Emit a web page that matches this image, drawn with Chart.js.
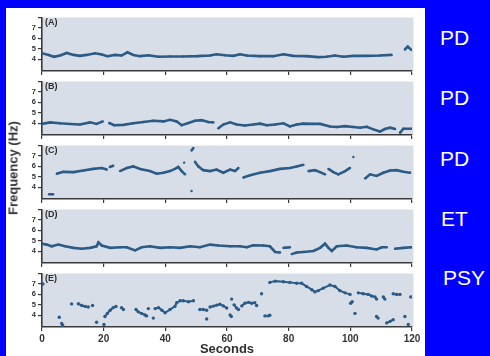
<!DOCTYPE html>
<html>
<head>
<meta charset="utf-8">
<script src="https://cdn.jsdelivr.net/npm/chart.js@4"></script>
<style>
  body { margin: 0; width: 490px; height: 356px; background: #0000ff; overflow: hidden; position: relative; font-family: "Liberation Sans", Arial, sans-serif; }
  #sheet { position: absolute; left: 6px; top: 8px; width: 419px; height: 348px; background: #ffffff; }
  .panel { position: absolute; left: 0; }
  #ylabel { position: absolute; left: 13px; top: 168px; transform: translate(-50%, -50%) rotate(-90deg); font-weight: bold; font-size: 13px; color: #333; white-space: nowrap; }
  .group { position: absolute; color: #ffffff; font-size: 21px; line-height: 21px; }
</style>
</head>
<body>
<div id="sheet"></div>
<canvas class="panel" id="panelA" width="425" height="68" style="top:11px"></canvas>
<canvas class="panel" id="panelB" width="425" height="68" style="top:75px"></canvas>
<canvas class="panel" id="panelC" width="425" height="68" style="top:139px"></canvas>
<canvas class="panel" id="panelD" width="425" height="68" style="top:203px"></canvas>
<canvas class="panel" id="panelE" width="425" height="89" style="top:267px"></canvas>
<div id="ylabel">Frequency (Hz)</div>
<div class="group" style="left:440px; top:27px">PD</div>
<div class="group" style="left:440px; top:87px">PD</div>
<div class="group" style="left:440px; top:148px">PD</div>
<div class="group" style="left:441px; top:208px">ET</div>
<div class="group" style="left:443px; top:267px">PSY</div>

<script>
document.addEventListener('DOMContentLoaded', function() {
    // tick labels
    const secondTicks = [0, 20, 40, 60, 80, 100, 120];
    const freqTicks = [4, 5, 6, 7];
    const panelNames = ['(A)', '(B)', '(C)', '(D)', '(E)'];

    // (A) PD - time in seconds, tremor frequency in Hz (null = gap)
    const timesA = [0, 2.1, 3.9, 6.1, 8, 10.2, 12.3, 14.5, 17.2, 19.4, 21.2, 23.7, 25.8, 27.7, 29.6, 31.8, 34.5, 37.7, 41.5, 45.8,
        50.2, 54.5, 56.6, 59.4, 62.1, 64.2, 66.4, 70.7, 75, 78.3, 81.5, 85.8, 89.6, 92.3, 95, 97.7, 101, 105.3, 109.6, 113.4,
        115.5, 117.7, 118.6, 119.9];
    const freqA = [4.58, 4.42, 4.24, 4.39, 4.61, 4.42, 4.33, 4.42, 4.58, 4.45, 4.3, 4.42, 4.36, 4.67, 4.42, 4.3, 4.39, 4.24, 4.27, 4.27,
        4.3, 4.36, 4.48, 4.39, 4.33, 4.48, 4.36, 4.3, 4.3, 4.48, 4.33, 4.3, 4.21, 4.24, 4.36, 4.24, 4.33, 4.33, 4.36, 4.42,
        null, 4.94, 5.21, 4.88];

    // (B) PD
    const timesB = [0, 2.6, 5.8, 9.1, 12.3, 15.6, 17.7, 19.7, 20.8, 21.8, 23.4, 26.4, 29.6, 32.9, 36.1, 39.4, 41.5, 43.7, 45.3, 47.5,
        49.6, 51.8, 53.9, 55.6, 56.4, 57.2, 58.8, 61, 63.1, 65.8, 68.5, 70.7, 72.9, 75.6, 78.3, 80.4, 82.6, 84.8, 88, 90.2,
        93.4, 95.6, 98.3, 101, 103.1, 105.3, 107.5, 109.6, 111.2, 112.9, 114.5, 115.3, 116.1, 117.2, 119.9];
    const freqB = [3.94, 4.09, 4.0, 3.94, 3.88, 4.09, 3.94, 4.18, null, 4.03, 3.82, 3.85, 4.0, 4.12, 4.24, 4.18, 4.33, 4.18, 3.82, 4.03,
        4.24, 4.3, 4.12, 4.09, null, 3.52, 3.88, 4.09, 3.88, 3.79, 3.88, 3.97, 3.82, 3.88, 4.0, 3.7, 3.88, 3.97, 3.94, 3.94,
        3.7, 3.64, 3.73, 3.64, 3.58, 3.67, 3.42, 3.21, 3.45, 3.58, 3.45, null, 3.09, 3.48, 3.48];

    // (C) PD
    const timesC = [2.3, 3.6, 4.2, 4.8, 6.9, 10.2, 13.4, 16.6, 19.4, 21, 21.5, 22, 23.1, 24.2, 25.3, 27.5, 29.6, 31.8, 35, 37.2,
        39.4, 41.5, 43.1, 44.2, 45.3, 46.4, 46.6, 46.1, 46.7, 48.5, 48.6, 48.5, 49.1, 49.3, 49.6, 50.7, 52.3, 54.5, 56.6, 58.8,
        61, 62.6, 63.7, 64.5, 65.3, 67.5, 70.7, 73.9, 77.2, 80.4, 82.6, 84.8, 85.5, 86.4, 88.5, 90.2, 91.8, 92.3, 92.9, 94.5,
        96.1, 98.3, 99.9, 100.5, 101, 102, 104.8, 106.4, 108.5, 110.7, 112.9, 115, 117.2, 119.4];
    const freqC = [3.33, 3.33, null, 5.3, 5.48, 5.45, 5.6, 5.76, 5.85, 5.7, null, 5.94, 6.06, null, 5.55, 5.85, 6.0, 5.76, 5.55, 5.3,
        5.39, 5.55, 5.76, 5.94, 5.55, 5.24, null, 6.36, null, 3.64, null, 7.52, 7.76, null, 6.45, 6.0, 5.64, 5.55, 5.7, 5.39,
        5.7, 5.55, 5.85, null, 4.94, 5.15, 5.39, 5.55, 5.76, 5.85, 6.0, 6.15, null, 5.55, 5.64, 5.45, 5.24, null, 5.76, 5.45,
        5.24, 5.55, 5.85, null, 6.9, null, 4.85, 5.24, 5.09, 5.39, 5.61, 5.64, 5.48, 5.39];

    // (D) ET
    const timesD = [0, 1.5, 3.1, 5.3, 7.5, 10.2, 12.9, 15.6, 17.7, 18.3, 19.4, 22.1, 25.3, 27.5, 30.2, 32.3, 35, 38.3, 41.5, 44.8,
        48, 51.2, 54.5, 57.2, 61, 64.2, 66.4, 68.5, 71.8, 73.9, 75.6, 77.2, 77.7, 78.3, 80.4, 80.7, 81, 82.6, 84.8, 88,
        90.2, 91.8, 92.9, 94, 95.6, 98.8, 102, 105.3, 108.5, 110.2, 111.8, 113, 114.5, 117.2, 119.9];
    const freqD = [4.73, 4.64, 4.48, 4.64, 4.48, 4.33, 4.24, 4.33, 4.48, 4.85, 4.55, 4.33, 4.39, 4.39, 4.09, 4.39, 4.48, 4.33, 4.39, 4.33,
        4.48, 4.39, 4.64, 4.55, 4.48, 4.48, 4.39, 4.58, 4.55, 4.48, 3.94, 3.88, null, 4.33, 4.39, null, 3.73, 3.88, 3.94, 4.03,
        4.33, 4.73, 4.33, 4.03, 4.48, 4.55, 4.39, 4.33, 4.18, 4.39, 4.39, null, 4.24, 4.33, 4.39];

    // (E) PSY - scattered estimates
    const timesE = [0.3, 1, 5.6, 6, 6.4, 6.7, 7, 9.6, 10, 11.8, 12.9, 14, 15, 15.5, 16.4, 17, 17.7, 18, 20.1, 20.2,
        20.4, 21.2, 22.1, 23.1, 24, 25, 25.8, 26.4, 27, 30.5, 31.2, 32.3, 33.4, 33.9, 34.2, 34.5, 35, 36.1, 36.4, 36.7,
        37.8, 38.9, 39.9, 41.5, 43.1, 43.7, 44.8, 45.8, 47.5, 49.1, 50, 51.2, 52.3, 53.4, 53.4, 53.4, 54, 54.5, 55.6, 56.6,
        57.7, 58.8, 59.9, 60.5, 61, 61.4, 61.4, 61.5, 61.9, 62.3, 63.1, 63.7, 64.2, 64.8, 65.8, 67, 68, 69, 69.3, 69.6,
        70, 71.2, 71.8, 72.3, 73.4, 73.9, 73.9, 73.9, 75.6, 78.3, 80.4, 82.6, 84.2, 85.8, 87.5, 88.5, 89.6, 91.2, 93.4, 95,
        96.6, 98.3, 99.9, 100, 100.1, 100.6, 101, 101.5, 102, 102.6, 104.2, 105.8, 106.9, 108, 108.5, 108.5, 108.5, 109, 109.5, 110.7,
        111.2, 111.5, 111.8, 112.9, 113.9, 113.9, 113.9, 115, 116.1, 117, 117.7, 118, 118.8, 119, 119.6];
    const freqE = [7.0, null, 3.82, null, 3.21, 3.03, null, 5.09, null, 5.1, 4.94, 4.85, 4.79, null, 4.94, null, 3.33, null, 3.12, null,
        3.88, 4.18, 4.48, 4.73, 4.85, null, 4.73, 4.55, null, 4.55, 4.33, 4.18, 4.03, 3.94, null, 4.64, null, 3.73, null, 4.64,
        4.73, 4.48, 4.24, 4.55, 4.85, 5.2, 5.39, 5.39, 5.3, 5.39, null, 4.55, 4.55, 4.48, null, 3.64, null, 4.79, 4.88, 4.97,
        5.06, 4.9, 4.7, null, 4.03, 3.88, null, 5.55, null, 5.0, 4.7, 4.55, null, 4.9, 5.15, 5.24, 5.15, 5.2, null, 4.94,
        null, 6.06, null, 3.94, 3.94, 4.0, null, 7.15, 7.27, 7.21, 7.15, 7.06, 7.06, 6.76, 6.45, 6.24, 6.36, 6.6, 6.9, 6.76,
        6.36, 6.15, 6.0, null, 5.15, 5.3, null, 4.18, null, 6.15, 6.06, 6.0, 5.85, 5.76, 5.55, null, 3.88, 3.73, null, 5.76,
        5.55, null, 3.27, 3.42, 3.58, null, 6.06, 6.0, 6.0, null, 3.88, null, 3.12, null, 5.76];

    const lineColor = '#2b5b86';
    const axisColor = '#3a3a3a';
    const shadeColor = '#d7dee7';

    // fills the plot area and writes the (A)..(E) tag
    const panelPlugin = {
        id: 'panelDecor',
        beforeDraw(chart, args, opts) {
            const a = chart.chartArea;
            const ctx = chart.ctx;
            ctx.save();
            ctx.fillStyle = shadeColor;
            ctx.fillRect(a.left, a.top, a.right - a.left + 1.5, a.bottom - a.top);
            ctx.restore();
        },
        afterDraw(chart, args, opts) {
            const a = chart.chartArea;
            const ctx = chart.ctx;
            ctx.save();
            ctx.fillStyle = '#2f2f2f';
            ctx.font = 'bold 9px "Liberation Sans", Arial, sans-serif';
            ctx.textBaseline = 'top';
            ctx.fillText(opts.text, a.left + 3, a.top + 1);
            ctx.restore();
        }
    };

    function makePanel(canvasId, name, times, freqs, isLast) {
        const points = times.map((t, i) => ({ x: t, y: freqs[i] }));
        const ctx = document.getElementById(canvasId).getContext('2d');
        return new Chart(ctx, {
            type: 'line',
            data: {
                datasets: [{
                    data: points,
                    borderColor: lineColor,
                    backgroundColor: lineColor,
                    borderWidth: isLast ? 2 : 2.6,
                    pointRadius: isLast ? 1.7 : 1.2,
                    pointBorderWidth: 0,
                    tension: 0,
                    spanGaps: false
                }]
            },
            options: {
                responsive: false,
                animation: false,
                layout: { padding: { top: 4, right: 13, left: 0, bottom: 0 } },
                plugins: {
                    legend: { display: false },
                    tooltip: { enabled: false },
                    panelDecor: { text: name }
                },
                scales: {
                    x: {
                        type: 'linear',
                        min: 0,
                        max: 120,
                        afterBuildTicks: (scale) => { scale.ticks = secondTicks.map(v => ({ value: v })); },
                        afterFit: (scale) => { scale.height = isLast ? 29 : 8; },
                        ticks: {
                            callback: (v) => isLast ? v : '',
                            color: '#333',
                            font: { size: 10, weight: 'bold', family: '"Liberation Sans", Arial, sans-serif' },
                            padding: 2,
                            maxRotation: 0,
                            autoSkip: false
                        },
                        grid: { drawOnChartArea: false, tickLength: 4, color: axisColor, lineWidth: 1.2 },
                        border: { color: axisColor, width: 1.6 },
                        title: {
                            display: isLast,
                            text: 'Seconds',
                            color: '#2f2f2f',
                            font: { size: 13, weight: 'bold', lineHeight: 1, family: '"Liberation Sans", Arial, sans-serif' },
                            padding: 0
                        }
                    },
                    y: {
                        min: 2.88,
                        max: 8,
                        afterBuildTicks: (scale) => { scale.ticks = freqTicks.concat([8]).map(v => ({ value: v })); },
                        afterFit: (scale) => { scale.width = 42; },
                        ticks: {
                            callback: (v) => freqTicks.includes(v) ? v : '',
                            color: '#333',
                            font: { size: 7.5, weight: 'bold', family: '"Liberation Sans", Arial, sans-serif' },
                            padding: 2
                        },
                        grid: { drawOnChartArea: false, tickLength: 4, color: axisColor, lineWidth: 1.2 },
                        border: { color: axisColor, width: 1.6 }
                    }
                }
            },
            plugins: [panelPlugin]
        });
    }

    makePanel('panelA', panelNames[0], timesA, freqA, false);
    makePanel('panelB', panelNames[1], timesB, freqB, false);
    makePanel('panelC', panelNames[2], timesC, freqC, false);
    makePanel('panelD', panelNames[3], timesD, freqD, false);
    makePanel('panelE', panelNames[4], timesE, freqE, true);
});
</script>
</body>
</html>
